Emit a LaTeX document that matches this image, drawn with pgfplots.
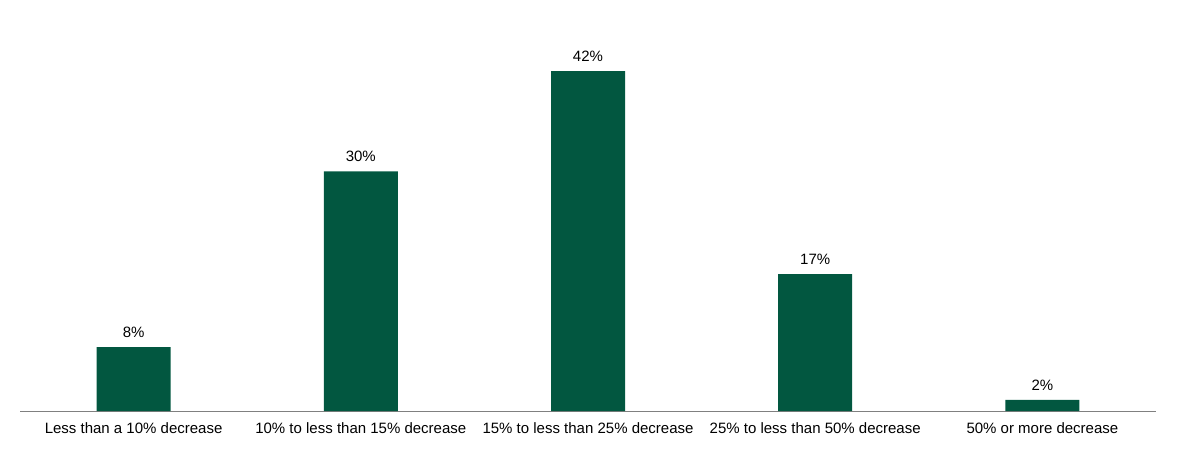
\documentclass[border=0pt]{standalone}
\usepackage{pgfplots}
\pgfplotsset{compat=1.18}
\usepackage{fontspec}
\setmainfont{Liberation Sans}
\definecolor{bargreen}{RGB}{2,87,64}
\definecolor{axisgray}{RGB}{128,128,128}
\begin{document}
\begin{tikzpicture}
\begin{axis}[
  scale only axis,
  width=852pt, height=308.25pt,
  xmin=-0.5, xmax=4.5,
  ymin=0, ymax=50.77,
  axis x line*=bottom,
  axis y line=none,
  x axis line style={axisgray, line width=0.75pt, -},
  xtick=data,
  xticklabels={Less than a 10\% decrease,10\% to less than 15\% decrease,15\% to less than 25\% decrease,25\% to less than 50\% decrease,50\% or more decrease},
  major tick length=0pt,
  xticklabel style={font=\fontsize{11.25pt}{13pt}\selectfont, yshift=-5.5pt},
  ybar, bar width=55.5pt,
  nodes near coords={\pgfplotspointmeta\%},
  point meta=explicit symbolic,
  nodes near coords style={font=\fontsize{11.25pt}{13pt}\selectfont, yshift=3.5pt},
  clip=false,
]
\addplot[fill=bargreen, draw=none] coordinates {
  (0,7.9) [8]
  (1,29.6) [30]
  (2,42) [42]
  (3,16.9) [17]
  (4,1.36) [2]
};
\coordinate (SW) at (rel axis cs:0,0);
\end{axis}
\useasboundingbox (SW) ++(-15pt,-38.25pt) rectangle ++(883.5pt,346.5pt);
\end{tikzpicture}
\end{document}
